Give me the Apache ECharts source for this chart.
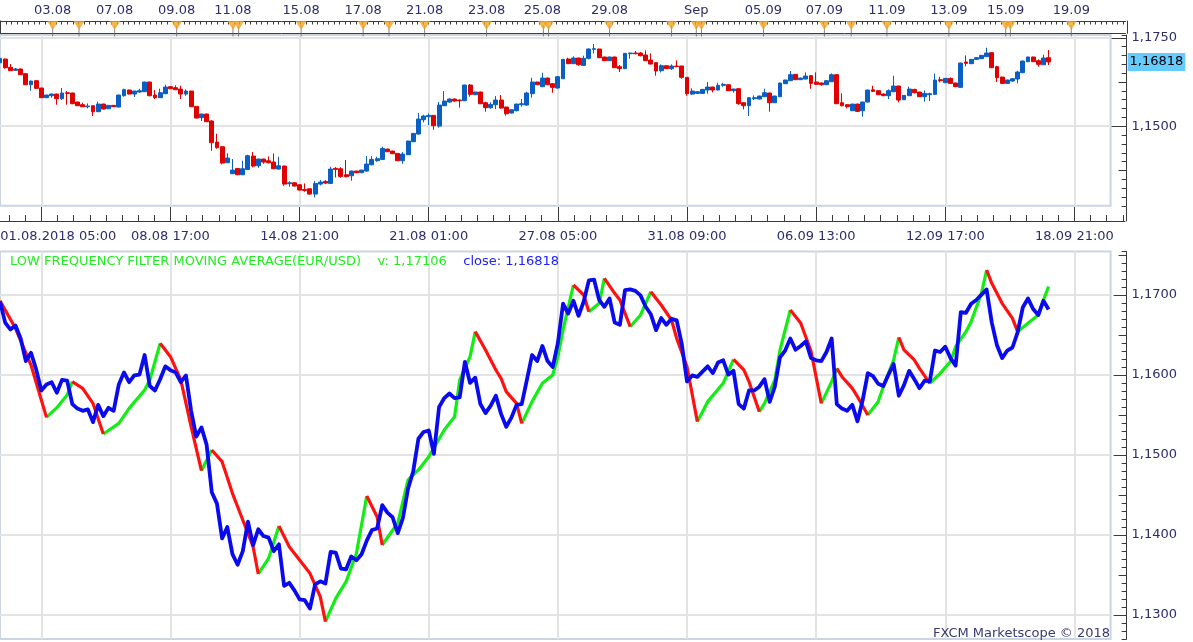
<!DOCTYPE html>
<html>
<head>
<meta charset="utf-8">
<title>EUR/USD - Low Frequency Filter MA</title>
<script src="https://cdn.jsdelivr.net/npm/echarts@6/dist/echarts.min.js"></script>
<style>
    html, body { margin: 0; padding: 0; background: #fff; }
    #chart1 { width: 1193px; height: 642px; }
</style>
</head>
<body>
<div id="chart1"></div>
<script>
// EUR/USD 4h bars
var opens = [
    1.16797,1.16900,1.16665,1.16580,1.16618,1.16486,1.16174,1.16288,1.16080,1.15807,
    1.15863,1.15910,1.15778,1.15948,1.15939,1.15684,1.15609,1.15552,1.15580,1.15411,
    1.15627,1.15495,1.15590,1.15543,1.15863,1.16024,1.15910,1.15967,1.15976,1.16250,
    1.15882,1.15807,1.15920,1.16118,1.16090,1.16052,1.15910,1.15995,1.15561,1.15241,
    1.15345,1.15147,1.14552,1.14420,1.13968,1.13657,1.13807,1.13628,1.13779,1.14156,
    1.13883,1.14072,1.14024,1.13987,1.13788,1.13874,1.13374,1.13402,1.13345,1.13213,
    1.13232,1.13081,1.13364,1.13440,1.13383,1.13807,1.13798,1.13628,1.13600,1.13732,
    1.13685,1.13732,1.13911,1.14024,1.14062,1.14354,1.14298,1.14232,1.14024,1.14194,
    1.14562,1.14779,1.15184,1.15269,1.15307,1.15005,1.15580,1.15684,1.15769,1.15741,
    1.15722,1.16165,1.15891,1.15967,1.15665,1.15524,1.15609,1.15741,1.15543,1.15373,
    1.15439,1.15609,1.15599,1.15920,1.16250,1.16118,1.16363,1.16203,1.16080,1.16344,
    1.16900,1.16769,1.16929,1.16721,1.16919,1.17174,1.17183,1.16957,1.16853,1.16957,
    1.16684,1.16627,1.17051,1.17070,1.17070,1.17014,1.16872,1.16797,1.16570,1.16712,
    1.16627,1.16702,1.16702,1.16382,1.15910,1.15929,1.15929,1.16024,1.16108,1.16024,
    1.16156,1.16174,1.16005,1.16061,1.15665,1.15580,1.15778,1.15769,1.15835,1.15939,
    1.15665,1.15835,1.16203,1.16288,1.16467,1.16316,1.16335,1.16429,1.16250,1.16222,
    1.16174,1.16259,1.16457,1.15665,1.15609,1.15439,1.15627,1.15439,1.15684,1.16033,
    1.16005,1.15910,1.15863,1.15976,1.16137,1.15750,1.15863,1.16042,1.15967,1.15835,
    1.15891,1.15901,1.16316,1.16231,1.16354,1.16222,1.16099,1.16816,1.16769,1.16891,
    1.16910,1.16967,1.17080,1.16684,1.16391,1.16212,1.16278,1.16335,1.16514,1.16825,
    1.16957,1.16853,1.16740,1.16938
];
var highs = [
    1.16985,1.16910,1.16759,1.16646,1.16636,1.16495,1.16288,1.16306,1.16090,1.15891,
    1.15920,1.15920,1.16080,1.15995,1.15948,1.15693,1.15665,1.15646,1.15590,1.15693,
    1.15637,1.15599,1.15599,1.15891,1.16061,1.16033,1.16005,1.16061,1.16259,1.16259,
    1.16024,1.16061,1.16174,1.16127,1.16156,1.16146,1.16042,1.16005,1.15571,1.15354,
    1.15354,1.15175,1.14788,1.14430,1.14232,1.14072,1.13817,1.14024,1.14194,1.14270,
    1.14081,1.14081,1.14147,1.14232,1.14138,1.13883,1.13440,1.13411,1.13355,1.13383,
    1.13242,1.13449,1.13477,1.13477,1.13855,1.13845,1.13845,1.14043,1.13741,1.13741,
    1.13770,1.14156,1.14156,1.14138,1.14420,1.14364,1.14307,1.14241,1.14270,1.14590,
    1.14807,1.15373,1.15326,1.15363,1.15316,1.15684,1.15995,1.15788,1.15788,1.15759,
    1.16174,1.16193,1.15976,1.15976,1.15693,1.15675,1.15854,1.15882,1.15552,1.15477,
    1.15637,1.15769,1.15976,1.16372,1.16259,1.16514,1.16372,1.16212,1.16420,1.16900,
    1.16938,1.16976,1.16938,1.16995,1.17202,1.17325,1.17193,1.16967,1.16967,1.16967,
    1.16731,1.17070,1.17080,1.17127,1.17099,1.17146,1.17061,1.16806,1.16750,1.16721,
    1.16750,1.16863,1.16712,1.16391,1.16071,1.15986,1.16052,1.16250,1.16118,1.16231,
    1.16231,1.16184,1.16061,1.16080,1.15675,1.15826,1.15873,1.15863,1.16061,1.15948,
    1.15863,1.16231,1.16316,1.16561,1.16476,1.16372,1.16523,1.16448,1.16523,1.16240,
    1.16297,1.16495,1.16467,1.15929,1.15627,1.15637,1.15637,1.15693,1.16033,1.16146,
    1.16014,1.15929,1.16042,1.16429,1.16146,1.15882,1.16118,1.16061,1.15976,1.16014,
    1.15948,1.16486,1.16401,1.16363,1.16382,1.16231,1.16797,1.17004,1.16900,1.16948,
    1.17014,1.17221,1.17089,1.16712,1.16401,1.16316,1.16363,1.16561,1.16853,1.16967,
    1.16967,1.16891,1.17023,1.17155
];
var lows = [
    1.16787,1.16627,1.16561,1.16561,1.16448,1.16165,1.16005,1.16052,1.15797,1.15797,
    1.15807,1.15609,1.15741,1.15609,1.15627,1.15571,1.15543,1.15505,1.15288,1.15401,
    1.15477,1.15486,1.15543,1.15533,1.15835,1.15901,1.15826,1.15948,1.15967,1.15844,
    1.15769,1.15797,1.15910,1.16052,1.16024,1.15769,1.15863,1.15543,1.15222,1.15147,
    1.15118,1.14307,1.14364,1.13921,1.13958,1.13647,1.13619,1.13619,1.13760,1.13836,
    1.13826,1.13940,1.13949,1.13788,1.13779,1.13317,1.13289,1.13298,1.13185,1.13147,
    1.13072,1.12987,1.13327,1.13364,1.13374,1.13553,1.13543,1.13553,1.13459,1.13675,
    1.13675,1.13713,1.13892,1.13996,1.14043,1.14270,1.14213,1.14015,1.13940,1.14185,
    1.14552,1.14769,1.15109,1.15033,1.14901,1.14958,1.15571,1.15665,1.15693,1.15524,
    1.15712,1.15835,1.15882,1.15627,1.15411,1.15495,1.15486,1.15495,1.15297,1.15363,
    1.15420,1.15552,1.15580,1.15807,1.16165,1.16108,1.16165,1.15948,1.16061,1.16335,
    1.16759,1.16759,1.16712,1.16712,1.16891,1.17061,1.16929,1.16844,1.16844,1.16646,
    1.16533,1.16618,1.16910,1.17033,1.16976,1.16844,1.16750,1.16429,1.16523,1.16618,
    1.16589,1.16674,1.16344,1.15863,1.15882,1.15920,1.15920,1.15920,1.15957,1.16014,
    1.16118,1.15995,1.15948,1.15609,1.15477,1.15288,1.15741,1.15759,1.15826,1.15411,
    1.15656,1.15826,1.16193,1.16278,1.16306,1.16306,1.16325,1.16061,1.16174,1.16146,
    1.16165,1.16250,1.15627,1.15561,1.15505,1.15429,1.15401,1.15269,1.15675,1.15967,
    1.15882,1.15854,1.15769,1.15967,1.15675,1.15741,1.15854,1.15929,1.15826,1.15693,
    1.15712,1.15891,1.16240,1.16222,1.16203,1.16108,1.16090,1.16693,1.16759,1.16882,
    1.16900,1.16957,1.16646,1.16250,1.16203,1.16203,1.16259,1.16212,1.16504,1.16816,
    1.16816,1.16684,1.16731,1.16731
];
var closes = [
    1.16919,1.16655,1.16570,1.16618,1.16457,1.16174,1.16278,1.16071,1.15807,1.15882,
    1.15910,1.15778,1.15939,1.15929,1.15637,1.15580,1.15552,1.15571,1.15411,1.15627,
    1.15486,1.15590,1.15552,1.15882,1.16033,1.15910,1.15995,1.16005,1.16250,1.15863,
    1.15807,1.15948,1.16108,1.16061,1.16033,1.15910,1.15995,1.15552,1.15231,1.15345,
    1.15128,1.14534,1.14392,1.13958,1.14100,1.13760,1.13628,1.13798,1.14166,1.13874,
    1.14072,1.13987,1.13968,1.13798,1.13883,1.13364,1.13402,1.13308,1.13195,1.13185,
    1.13081,1.13383,1.13421,1.13393,1.13788,1.13779,1.13581,1.13572,1.13732,1.13685,
    1.13760,1.13930,1.14062,1.14081,1.14373,1.14279,1.14222,1.14024,1.14213,1.14581,
    1.14798,1.15203,1.15288,1.15307,1.15015,1.15599,1.15712,1.15769,1.15712,1.15722,
    1.16165,1.15901,1.15967,1.15637,1.15524,1.15618,1.15741,1.15514,1.15354,1.15467,
    1.15627,1.15637,1.15939,1.16250,1.16174,1.16363,1.16174,1.16099,1.16401,1.16891,
    1.16769,1.16929,1.16740,1.16919,1.17183,1.17193,1.16938,1.16853,1.16957,1.16655,
    1.16627,1.17061,1.17070,1.17051,1.16995,1.16853,1.16759,1.16561,1.16712,1.16627,
    1.16702,1.16684,1.16382,1.15920,1.15995,1.15976,1.16042,1.16108,1.16024,1.16156,
    1.16184,1.16005,1.16052,1.15637,1.15580,1.15807,1.15807,1.15854,1.15948,1.15665,
    1.15854,1.16222,1.16306,1.16457,1.16316,1.16363,1.16420,1.16212,1.16184,1.16174,
    1.16288,1.16457,1.15637,1.15580,1.15552,1.15627,1.15420,1.15684,1.16024,1.15986,
    1.15891,1.15863,1.16005,1.16137,1.15741,1.15873,1.16052,1.15948,1.15835,1.15929,
    1.15920,1.16306,1.16288,1.16354,1.16212,1.16118,1.16787,1.16778,1.16891,1.16938,
    1.17004,1.17070,1.16655,1.16372,1.16212,1.16306,1.16344,1.16533,1.16844,1.16957,
    1.16825,1.16750,1.16929,1.16818
];
// low frequency filter MA, read at its turning points: [bar, value]
var maPoints = [
    [0,1.16929],[3,1.16583],[6,1.16125],[9,1.15471],[11,1.15592],[13,1.15750],[14,1.15917],[16,1.15833],[18,1.15646],[20,1.15263],
    [23,1.15396],[25,1.15583],[28,1.15813],[29,1.15938],[31,1.16396],[33,1.16229],[35,1.15938],[37,1.15354],[39,1.14804],[41,1.15063],
    [43,1.14917],[45,1.14521],[47,1.14188],[49,1.13854],[50,1.13513],[52,1.13708],[54,1.14113],[56,1.13854],[60,1.13521],[62,1.13229],
    [63,1.12917],[65,1.13208],[67,1.13417],[69,1.13771],[71,1.14488],[73,1.14229],[74,1.13875],[77,1.14150],[79,1.14688],[81,1.14813],
    [83,1.14979],[86,1.15313],[88,1.15479],[89,1.15938],[91,1.16229],[92,1.16542],[94,1.16313],[96,1.16063],[97,1.15958],[98,1.15792],
    [100,1.15646],[101,1.15396],[103,1.15667],[105,1.15896],[107,1.16000],[108,1.16229],[109,1.16563],[111,1.17125],[113,1.17000],[114,1.16792],
    [116,1.16896],[117,1.17208],[119,1.17021],[120,1.16938],[122,1.16604],[124,1.16750],[126,1.17042],[128,1.16875],[130,1.16688],[131,1.16458],
    [133,1.16104],[135,1.15417],[137,1.15667],[140,1.15896],[142,1.16196],[144,1.16063],[145,1.15917],[147,1.15542],[148,1.15646],[150,1.15938],
    [151,1.16313],[153,1.16813],[155,1.16650],[157,1.16300],[159,1.15646],[161,1.15917],[162,1.16083],[163,1.15979],[165,1.15833],[166,1.15729],
    [168,1.15500],[170,1.15667],[171,1.15854],[173,1.16188],[174,1.16471],[175,1.16313],[177,1.16188],[178,1.16083],[180,1.15896],[182,1.16021],
    [184,1.16167],[185,1.16354],[187,1.16542],[188,1.16667],[190,1.17021],[191,1.17313],[192,1.17146],[194,1.16896],[196,1.16708],[197,1.16542],
    [199,1.16646],[201,1.16750],[202,1.16938],[203,1.17106]
];
var bottomLabels = ['01.08.2018 05:00', '08.08 17:00', '14.08 21:00', '21.08 01:00', '27.08 05:00',
    '31.08 09:00', '06.09 13:00', '12.09 17:00', '18.09 21:00'];
var topLabelSlots = [10.1, 22.1, 34.1, 45.0, 58.2, 70.2, 82.1, 94.1, 104.9, 117.9, 134.7, 147.7, 159.5, 171.6, 183.6, 194.6, 207.3];
var topLabelTexts = ['03.08', '07.08', '09.08', '11.08', '15.08', '17.08', '21.08', '23.08', '25.08', '29.08',
    'Sep', '05.09', '07.09', '11.09', '13.09', '15.09', '19.09'];
var eventSlots = [10.1, 15.2, 22.1, 34.1, 45.0, 46.1, 58.2, 70.2, 75.2, 82.1, 94.1, 105.1, 106.1, 117.9,
    129.9, 134.7, 135.7, 147.7, 159.5, 164.7, 171.6, 183.6, 194.6, 195.5, 207.3];
var topMajor = [1.15, 1.175], topMedium = [1.1375, 1.1625];
var lowMajor = [1.13, 1.14, 1.15, 1.16, 1.17], lowMedium = [1.135, 1.145, 1.155, 1.165, 1.175];

var slotCount = 216, tickStart = 8, tickStep = 25;
var plotW = 1110.6, rulerW = 1125;
var rulerMax = rulerW / (plotW / (slotCount - 1));
var FONT = "'DejaVu Sans', Verdana, sans-serif";
var TXT = '#2d2d6b', LINE = '#3a3a3a', GRIDC = '#e3e3e3';

var chart1 = echarts.init(document.getElementById('chart1'));

function fmt(v, d) { return v.toFixed(d).replace('.', ','); }
function isMajor(i) { return i >= tickStart && (i - tickStart) % tickStep === 0; }

var slots = [];
for (var i = 0; i < slotCount; i++) slots.push(String(i));
var candles = [];
for (var i = 0; i < closes.length; i++) candles.push([opens[i], closes[i], lows[i], highs[i]]);

var majorTicks = [], minorTicks = [], stripTicks = [];
for (var k = 0; k < bottomLabels.length; k++) majorTicks.push(tickStart + k * tickStep);
for (var v = tickStart - 2 * tickStep / 8; v <= rulerMax; v += tickStep / 8) minorTicks.push(v);
for (var v = 0; v <= rulerMax; v += 1.076) stripTicks.push(v);

// split the MA into rising (green) and falling (red) runs
var upData = [], downData = [];
for (var k = 0; k < maPoints.length - 1; k++) {
    var a = maPoints[k], b = maPoints[k + 1];
    var target = b[1] >= a[1] ? upData : downData;
    var last = target[target.length - 1];
    if (!last || last[0] !== a[0] || last[1] !== a[1]) {
        if (target.length) target.push([a[0], '-']);
        target.push(a);
    }
    target.push(b);
}

var lastClose = closes[closes.length - 1];
var lastMa = maPoints[maPoints.length - 1][1];

function yTickAxis(grid, min, max, opts) {
    var ax = {
        type: 'value', gridIndex: grid, position: 'right', offset: 16, min: min, max: max,
        axisLine: { show: false }, splitLine: { show: false }, axisLabel: { show: false },
        axisTick: { show: true, inside: true, length: 5, lineStyle: { color: LINE } }
    };
    for (var key in opts) ax[key] = opts[key];
    return ax;
}
function rulerX(grid, pos, opts) {
    var ax = {
        type: 'value', gridIndex: grid, position: pos, min: 0, max: rulerMax,
        axisLine: { show: false, onZero: false, lineStyle: { color: LINE } },
        axisTick: { show: false }, axisLabel: { show: false }, splitLine: { show: false }
    };
    for (var key in opts) ax[key] = opts[key];
    return ax;
}
function edgeY(grid, pos, off) {
    return {
        type: 'value', gridIndex: grid, position: pos, offset: off, min: 0, max: 1,
        axisLine: { show: true, onZero: false, lineStyle: { color: LINE } },
        axisTick: { show: false }, axisLabel: { show: false }, splitLine: { show: false }
    };
}

var option = {
    animation: false,
    textStyle: { fontFamily: FONT },
    title: [{
        left: 10, top: 255, padding: 0,
        text: '{a|LOW FREQUENCY FILTER MOVING AVERAGE(EUR/USD)}    {b|v: ' + fmt(lastMa, 5) + '}    {c|close: ' + fmt(lastClose, 5) + '}',
        textStyle: {
            fontSize: 13, fontWeight: 'normal', fontFamily: FONT,
            rich: {
                a: { color: '#22ee22', fontSize: 13, fontFamily: FONT },
                b: { color: '#22ee22', fontSize: 13, fontFamily: FONT },
                c: { color: '#2020ff', fontSize: 13, fontFamily: FONT }
            }
        }
    }, {
        right: 83, bottom: 2, padding: 0,
        text: 'FXCM Marketscope © 2018',
        textStyle: { color: '#3a3a70', fontSize: 13, fontWeight: 'normal', fontFamily: FONT }
    }],
    grid: [
        { left: 0, top: 35, width: plotW, height: 170.8, show: true, borderColor: '#cbd5e2', borderWidth: 2, outerBoundsMode: 'none' },
        { left: 0, top: 251.5, width: plotW, height: 387.5, show: true, borderColor: '#cbd5e2', borderWidth: 2, outerBoundsMode: 'none' },
        { left: 0.5, top: 21, width: rulerW, height: 12.3, outerBoundsMode: 'none' },
        { left: 0, top: 207, width: rulerW, height: 14, outerBoundsMode: 'none' }
    ],
    xAxis: [
        {
            type: 'category', gridIndex: 0, data: slots, boundaryGap: false,
            axisLine: { show: false }, axisTick: { show: false }, axisLabel: { show: false },
            splitLine: { show: true, interval: isMajor, lineStyle: { color: GRIDC, width: 2 } }
        },
        {
            type: 'category', gridIndex: 1, data: slots, boundaryGap: false,
            axisLine: { show: false }, axisTick: { show: false }, axisLabel: { show: false },
            splitLine: { show: true, interval: isMajor, lineStyle: { color: GRIDC, width: 2 } }
        },
        rulerX(2, 'top', {
            axisLine: { show: true, onZero: false, lineStyle: { color: LINE } },
            axisTick: { show: true, inside: true, length: 3.5, customValues: stripTicks, lineStyle: { color: LINE } }
        }),
        rulerX(2, 'top', {
            axisLabel: {
                show: true, customValues: topLabelSlots, margin: 4, color: TXT, fontSize: 13, fontFamily: FONT,
                formatter: function (v) { return topLabelTexts[topLabelSlots.indexOf(v)] || ''; }
            }
        }),
        rulerX(2, 'bottom', {
            axisLine: { show: true, onZero: false, lineStyle: { color: LINE } }
        }),
        rulerX(3, 'bottom', {
            axisLine: { show: true, onZero: false, lineStyle: { color: LINE } },
            axisTick: { show: true, inside: true, length: 14, customValues: majorTicks, lineStyle: { color: LINE } },
            axisLabel: {
                show: true, customValues: majorTicks, margin: 9, color: TXT, fontSize: 13, fontFamily: FONT,
                formatter: function (v) {
                    var k = Math.round((v - tickStart) / tickStep);
                    return k === 0 ? '{f|' + bottomLabels[0] + '}' : bottomLabels[k];
                },
                rich: { f: { padding: [0, 0, 0, 34], color: TXT, fontSize: 13, fontFamily: FONT } }
            }
        }),
        rulerX(3, 'bottom', {
            axisTick: { show: true, inside: true, length: 6, customValues: minorTicks, lineStyle: { color: LINE } }
        })
    ],
    yAxis: [
        {
            type: 'value', gridIndex: 0, position: 'right', offset: 16, min: 1.1275, max: 1.1758,
            axisLine: { show: true, lineStyle: { color: LINE } },
            axisTick: { show: true, inside: true, length: 15, customValues: topMajor, lineStyle: { color: LINE } },
            axisLabel: {
                show: true, customValues: topMajor, margin: 5, color: TXT, fontSize: 13, fontFamily: FONT,
                formatter: function (v) { return fmt(v, 4); }
            },
            splitLine: { show: true, lineStyle: { color: GRIDC, width: 2 } }
        },
        yTickAxis(0, 1.1275, 1.1758, { interval: 0.0025 }),
        yTickAxis(0, 1.1275, 1.1758, {
            axisTick: { show: true, inside: true, length: 8, customValues: topMedium, lineStyle: { color: LINE } }
        }),
        yTickAxis(0, 1.1275, 1.1758, {
            axisTick: { show: false },
            axisLabel: {
                show: true, customValues: [lastClose], margin: 1, color: '#000', fontSize: 13, fontFamily: FONT,
                backgroundColor: '#66ccff', padding: [3, 2, 2, 2],
                formatter: function (v) { return fmt(v, 5); }
            }
        }),
        {
            type: 'value', gridIndex: 1, position: 'right', offset: 16, min: 1.127, max: 1.17544,
            axisLine: { show: true, lineStyle: { color: LINE } },
            axisTick: { show: true, inside: true, length: 13, customValues: lowMajor, lineStyle: { color: LINE } },
            axisLabel: {
                show: true, customValues: lowMajor, margin: 5, color: TXT, fontSize: 13, fontFamily: FONT,
                formatter: function (v) { return fmt(v, 4); }
            },
            splitLine: { show: true, lineStyle: { color: GRIDC, width: 2 } }
        },
        yTickAxis(1, 1.127, 1.17544, { interval: 0.001 }),
        yTickAxis(1, 1.127, 1.17544, {
            axisTick: { show: true, inside: true, length: 8, customValues: lowMedium, lineStyle: { color: LINE } }
        }),
        edgeY(2, 'left', 0),
        edgeY(2, 'right', 1.6),
        edgeY(3, 'right', 1.6)
    ],
    series: [
        {
            name: 'EUR/USD', type: 'candlestick', xAxisIndex: 0, yAxisIndex: 0,
            data: candles, barWidth: 4.4,
            itemStyle: { color: '#0b5fc2', color0: '#e00000', borderColor: '#0b5fc2', borderColor0: '#e00000', borderWidth: 1 }
        },
        {
            name: 'event', type: 'scatter', xAxisIndex: 2, yAxisIndex: 7, clip: false, z: 3,
            data: eventSlots.map(function (s) { return [s, 0.19]; }),
            symbol: 'rect', symbolSize: [1, 11], itemStyle: { color: '#666' }
        },
        {
            name: 'eventMark', type: 'scatter', xAxisIndex: 2, yAxisIndex: 7, clip: false, z: 4,
            data: eventSlots.map(function (s) { return [s, 0.63]; }),
            symbol: 'path://M0,0L10,0L5,9Z', symbolSize: [11, 9], itemStyle: { color: '#f6a322' }
        },
        {
            name: 'ma up', type: 'line', xAxisIndex: 1, yAxisIndex: 4, data: upData,
            showSymbol: false, connectNulls: false, lineStyle: { color: '#11ee11', width: 3.2, join: 'round' }
        },
        {
            name: 'ma down', type: 'line', xAxisIndex: 1, yAxisIndex: 4, data: downData,
            showSymbol: false, connectNulls: false, lineStyle: { color: '#ff1111', width: 3.2, join: 'round' }
        },
        {
            name: 'close', type: 'line', xAxisIndex: 1, yAxisIndex: 4, data: closes,
            showSymbol: false, lineStyle: { color: '#0a0aee', width: 3.8, join: 'round' }, z: 5
        }
    ]
};
chart1.setOption(option, true);
</script>
</body>
</html>
